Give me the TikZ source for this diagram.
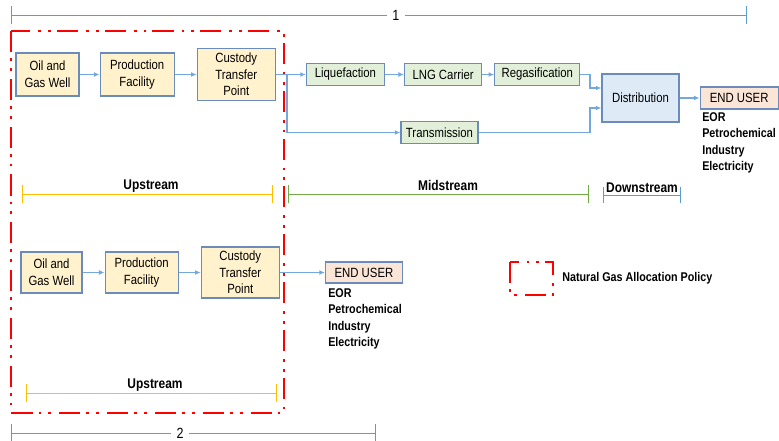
\documentclass[tikz,border=0pt]{standalone}
\usepackage{fontspec}
\setmainfont{Liberation Sans}[FakeStretch=0.85]
\usetikzlibrary{positioning,arrows.meta}
\definecolor{myyellow}{rgb}{1, 0.95, 0.8}
\definecolor{mygreen}{rgb}{0.89, 0.94, 0.85}
\definecolor{myblue}{rgb}{0.87, 0.92, 0.97}
\definecolor{mypeach}{rgb}{0.98, 0.9, 0.84}
\definecolor{myline}{rgb}{0.42, 0.55, 0.73}
\definecolor{myarrow}{rgb}{0.45, 0.66, 0.87}
\definecolor{mygold}{rgb}{1, 0.75, 0}
\definecolor{myleaf}{rgb}{0.44, 0.68, 0.28}
\definecolor{mysky}{rgb}{0.36, 0.61, 0.84}
\definecolor{myred}{rgb}{1, 0, 0}

\begin{document}
\begin{tikzpicture}[x=0.025cm, y=-0.025cm,
  font=\fontsize{9.5}{11.8}\selectfont,
  stage/.style={draw=myline, line width=0.8pt, fill=myyellow, align=center, inner sep=0pt},
  midbox/.style={draw=myline, line width=0.8pt, fill=mygreen, align=center, inner sep=0pt, minimum height=0.55cm},
  userbox/.style={draw=myline, line width=0.8pt, fill=mypeach, align=center, inner sep=0pt, minimum width=1.95cm, minimum height=0.55cm},
  flow/.style={draw=myarrow, line width=0.8pt, -{Latex[length=4pt, width=3.5pt]}},
  span/.style={line width=0.7pt, {Bar[width=0.43cm]}-{Bar[width=0.43cm]}},
  phase/.style={font=\fontsize{10}{12}\selectfont\bfseries, anchor=base},
  uses/.style={font=\fontsize{9}{11.8}\selectfont\bfseries, align=left, anchor=north west, inner sep=0pt},
  policy/.style={draw=myred, line width=2.1pt, dash pattern=on 15pt off 4.3pt on 2pt off 5pt on 2pt off 5.7pt}]

\useasboundingbox (0,0) rectangle (779,441);

% Overall span 1
\draw[span, draw=mysky] (11,15) -- node[pos=0.523, fill=white, inner sep=4pt, font=\fontsize{10.5}{12}\selectfont] (one) {1} (747,15);

% Natural gas allocation policy frame
\draw[policy] (11,31) rectangle (284,413);

% Upstream chain (span 1)
\node[stage, minimum width=1.575cm, minimum height=1.075cm] (well1) at (47.5,74.5) {Oil and\\Gas Well};
\node[stage, minimum width=1.85cm, minimum height=1.075cm, right=0.5cm of well1] (prod1) {Production\\Facility};
\node[stage, minimum width=1.95cm, minimum height=1.3cm, right=0.55cm of prod1] (cust1) {Custody\\Transfer\\Point};

% Midstream
\node[midbox, minimum width=1.95cm, right=0.75cm of cust1] (liq) {Liquefaction};
\node[midbox, minimum width=1.925cm, right=0.475cm of liq] (lng) {LNG Carrier};
\node[midbox, minimum width=2.125cm, right=0.3cm of lng] (regas) {Regasification};
\node[midbox, minimum width=1.925cm] (trans) at (439.5,132.5) {Transmission};

% Downstream
\node[draw=myline, line width=0.8pt, fill=myblue, align=center, inner sep=0pt, minimum width=1.925cm, minimum height=1.2cm] (dist) at (640.5,98) {Distribution};
\node[userbox, right=0.5cm of dist] (user1) {END USER};
\node[uses] (list1) at (702,112) {EOR\\Petrochemical\\Industry\\Electricity};

\coordinate (split) at (287,74.5);
\coordinate (merge) at (590,98);
\draw[flow] (well1) -- (prod1);
\draw[flow] (prod1) -- (cust1);
\draw[flow] (cust1.east |- liq) -- (liq);
\draw[flow] (split) |- (trans);
\draw[flow] (liq) -- (lng);
\draw[flow] (lng) -- (regas);
\draw[flow] (regas.east) -- (regas.east -| merge) |- ([yshift=0.25cm]dist.west);
\draw[flow] (trans.east) -- (trans.east -| merge) |- ([yshift=-0.25cm]dist.west);
\draw[flow] (dist) -- (user1);

% Stream spans
\draw[span, draw=mygold] (22,194) -- (273,194);
\node[phase] (up1) at (151,189) {Upstream};
\draw[span, draw=myleaf] (288,194) -- (589,194);
\node[phase] (mid) at (448,190) {Midstream};
\draw[span, draw=mysky, {Bar[width=0.38cm]}-{Bar[width=0.38cm]}] (603,195) -- (681,195);
\node[phase] (down) at (642,192) {Downstream};

% Upstream chain (span 2)
\node[stage, minimum width=1.525cm, minimum height=1.025cm] (well2) at (51.5,272.5) {Oil and\\Gas Well};
\node[stage, minimum width=1.825cm, minimum height=1.025cm, right=0.55cm of well2] (prod2) {Production\\Facility};
\node[stage, minimum width=1.95cm, minimum height=1.275cm, right=0.55cm of prod2] (cust2) {Custody\\Transfer\\Point};
\node[userbox, minimum width=1.925cm, minimum height=0.525cm, right=1.125cm of cust2] (user2) {END USER};
\node[uses] (list2) at (328,288) {EOR\\Petrochemical\\Industry\\Electricity};

\draw[flow] (well2) -- (prod2);
\draw[flow] (prod2) -- (cust2);
\draw[flow] (cust2) -- (user2);

\draw[span, draw=mygold] (26,393) -- (277,393);
\node[phase] (up2) at (155,388) {Upstream};

% Overall span 2
\draw[span, draw=mysky] (11,433) -- node[pos=0.463, fill=white, inner sep=4pt, font=\fontsize{10.5}{12}\selectfont] (two) {2} (376,433);

% Legend
\draw[policy] (510,262) rectangle (553,295);
\node[font=\fontsize{9}{11}\selectfont\bfseries, anchor=west, inner sep=0pt] (legend) at (562,278) {Natural Gas Allocation Policy};

\end{tikzpicture}
\end{document}
